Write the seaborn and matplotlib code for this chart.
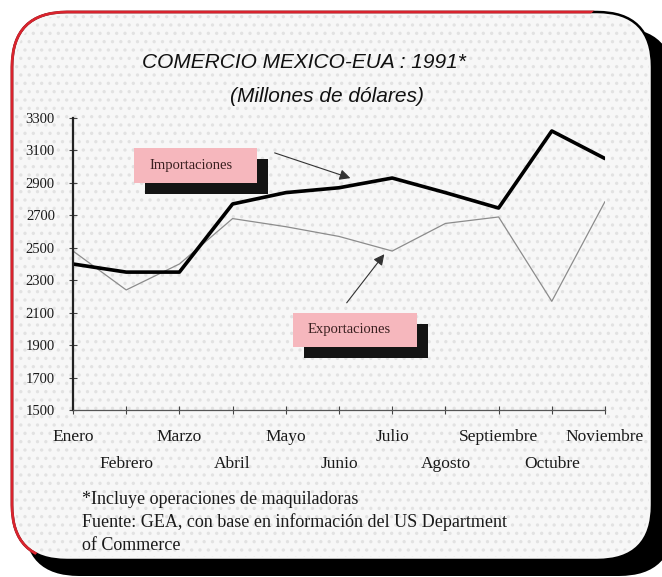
import numpy as np
import pandas as pd
import seaborn as sns
import matplotlib.pyplot as plt
from matplotlib.patches import FancyBboxPatch, Rectangle, Polygon

# datos (millones de dolares)
meses = ["Enero", "Febrero", "Marzo", "Abril", "Mayo", "Junio",
         "Julio", "Agosto", "Septiembre", "Octubre", "Noviembre"]
importaciones = [2400, 2350, 2350, 2770, 2840, 2870, 2930, 2840, 2745, 3220, 3050]
exportaciones = [2480, 2240, 2400, 2680, 2630, 2570, 2480, 2650, 2690, 2170, 2785]
y_ticks = list(range(1500, 3301, 200))

W, H = 662, 577

sns.set_theme(style="white")
plt.rcParams['font.family'] = ['Liberation Serif', 'DejaVu Serif']
plt.rcParams['hatch.linewidth'] = 1.2

df = pd.DataFrame({"pos": range(len(meses)), "mes": meses,
                   "imp": importaciones, "exp": exportaciones})

fig = plt.figure(figsize=(W / 100, H / 100), dpi=100)
fig.patch.set_facecolor("white")
inch = fig.dpi_scale_trans


def px(x, y):
    # pixeles desde arriba-izquierda -> pulgadas desde abajo-izquierda
    return x / 100, (H - y) / 100


# marco redondeado con sombra negra
x0, y0, x1, y1 = 12, 12, 652, 560
bw, bh = (x1 - x0) / 100, (y1 - y0) / 100
caja = "round,pad=0,rounding_size=0.55"

sombra = FancyBboxPatch(px(x0 + 12, y1 + 16), bw + 0.1, bh, boxstyle=caja,
                        transform=inch, fc="black", ec="none", zorder=-5)
fondo = FancyBboxPatch(px(x0, y1), bw, bh, boxstyle=caja, transform=inch,
                       fc="#f7f7f7", ec="black", lw=1.8, zorder=-4)
puntos = FancyBboxPatch(px(x0 + 3, y1 - 3), bw - 0.06, bh - 0.06, boxstyle=caja,
                        transform=inch, fc="none", ec="#e2e2e2", lw=0,
                        hatch="..", zorder=-3)
borde = FancyBboxPatch(px(x0, y1), bw, bh, boxstyle=caja, transform=inch,
                       fc="none", ec="#d9232d", lw=2.0, zorder=-2)
corte = Polygon([px(0, 0), px(605, 0), px(30, 560), px(0, 577)],
                closed=True, transform=inch, fc="none", ec="none")
for p in (sombra, fondo, puntos, borde):
    fig.add_artist(p)
borde.set_clip_path(corte)

# ejes
ax = fig.add_axes([73 / W, 1 - 410 / H, (605 - 73) / W, (410 - 118) / H])
ax.patch.set_alpha(0)

sns.lineplot(data=df, x="pos", y="exp", ax=ax, color="#8c8c8c", lw=0.9)
sns.lineplot(data=df, x="pos", y="imp", ax=ax, color="black", lw=2.6)

ax.set_xlim(0, len(meses) - 1)
ax.set_ylim(1500, 3300)
ax.set_yticks(y_ticks, [str(v) for v in y_ticks], fontsize=10.5)
ax.set_xticks(df["pos"][::2], meses[::2], fontsize=12.5)
ax.set_xticks(df["pos"][1::2], meses[1::2], minor=True, fontsize=12.5)
ax.tick_params(axis="x", which="both", direction="inout", length=6, width=0.8,
               color="#444", bottom=True, labelcolor="#1a1a1a")
ax.tick_params(axis="x", which="major", pad=11)
ax.tick_params(axis="x", which="minor", pad=30)
ax.tick_params(axis="y", direction="inout", length=6, width=0.8, color="#444",
               left=True, pad=10, labelcolor="#1a1a1a")
ax.set_xlabel("")
ax.set_ylabel("")
for s in ("top", "right"):
    ax.spines[s].set_visible(False)
ax.spines["left"].set_color("#222")
ax.spines["left"].set_linewidth(1.6)
ax.spines["bottom"].set_color("#555")
ax.spines["bottom"].set_linewidth(0.9)

# etiquetas con sombra
def etiqueta(texto, xa, ya, xb, yb):
    fig.add_artist(Rectangle(px(xa + 11, yb + 11), (xb - xa) / 100, (yb - ya) / 100,
                             transform=inch, fc="#141414", ec="none", zorder=3))
    fig.add_artist(Rectangle(px(xa, yb), (xb - xa) / 100, (yb - ya) / 100,
                             transform=inch, fc="#f6b7bd", ec="none", zorder=4))
    tx, ty = px(xa + 15, (ya + yb) / 2)
    fig.text(tx, ty, texto, transform=inch, fontsize=10.5, color="#3a2020",
             ha="left", va="center", zorder=5)


etiqueta("Importaciones", 134, 148, 257, 183)
etiqueta("Exportaciones", 293, 313, 417, 347)

flecha = dict(arrowstyle="-|>", color="#333", lw=0.8, mutation_scale=16)
ax.annotate("", xy=px(353, 179), xytext=px(272, 152), xycoords=inch,
            textcoords=inch, arrowprops=flecha, annotation_clip=False)
ax.annotate("", xy=px(386, 252), xytext=px(345, 305), xycoords=inch,
            textcoords=inch, arrowprops=flecha, annotation_clip=False)

# titulos
fig.text(304 / W, 1 - 62 / H, "COMERCIO MEXICO-EUA : 1991*", fontsize=15,
         style="italic", family=["Liberation Sans", "DejaVu Sans"],
         ha="center", va="center", color="#111")
fig.text(327 / W, 1 - 96 / H, "(Millones de dólares)", fontsize=15,
         style="italic", family=["Liberation Sans", "DejaVu Sans"],
         ha="center", va="center", color="#111")

# notas
notas = ["*Incluye operaciones de maquiladoras",
         "Fuente: GEA, con base en información del US Department",
         "of Commerce"]
for i, n in enumerate(notas):
    fig.text(82 / W, 1 - (499 + 23 * i) / H, n, fontsize=13, color="#1a1a1a",
             ha="left", va="center")

fig.savefig("out.png", dpi=100, facecolor=fig.get_facecolor())
